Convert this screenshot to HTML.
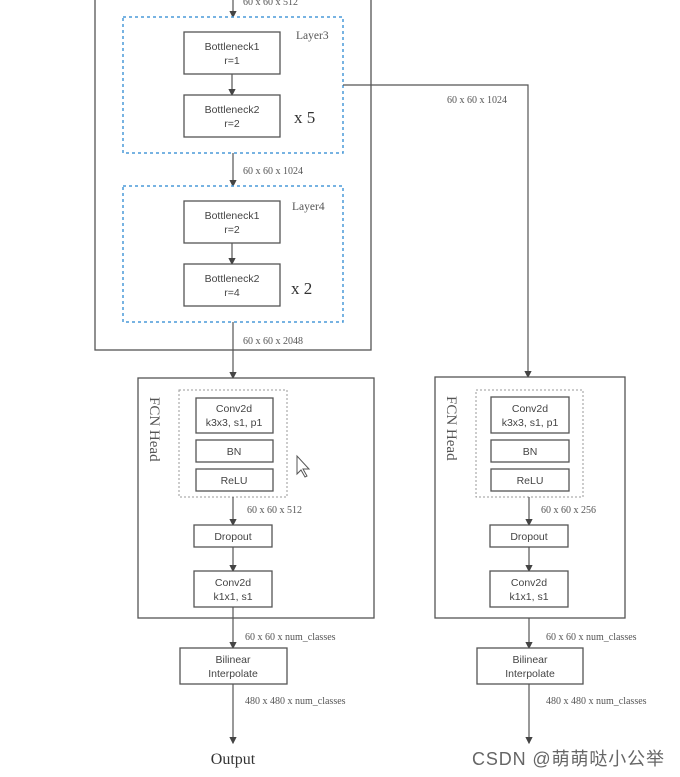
<!DOCTYPE html>
<html><head><meta charset="utf-8"><style>
body{margin:0;background:#fff}
svg{display:block}
.b{fill:#fff;stroke:#555;stroke-width:1.3}
.s{font-family:"Liberation Sans",sans-serif;font-size:10.5px;fill:#444;text-anchor:middle}
.t{font-family:"Liberation Serif",serif;font-size:10px;fill:#555}
.l{stroke:#555;stroke-width:1.2;fill:none}
.d{fill:none;stroke:#4a9ad8;stroke-width:1.5;stroke-dasharray:3,3}
.g{fill:none;stroke:#999;stroke-width:1;stroke-dasharray:2,2}
</style></head><body>
<svg width="680" height="777" viewBox="0 0 680 777" xmlns="http://www.w3.org/2000/svg">
<defs><marker id="a" markerWidth="6" markerHeight="6" refX="5" refY="3" orient="auto"><path d="M0,0 L6,3 L0,6 z" fill="#444"/></marker></defs>
<!-- backbone -->
<rect class="b" x="95" y="-10" width="276" height="360"/>
<line class="l" x1="233" y1="0" x2="233" y2="17" marker-end="url(#a)"/>
<text class="t" x="243" y="5">60 x 60 x 512</text>
<rect class="d" x="123" y="17" width="220" height="136"/>
<text class="t" x="296" y="39" style="font-size:11.5px">Layer3</text>
<rect class="b" x="184" y="32" width="96" height="42"/>
<text class="s" x="232" y="50">Bottleneck1</text><text class="s" x="232" y="64">r=1</text>
<line class="l" x1="232" y1="74" x2="232" y2="95" marker-end="url(#a)"/>
<rect class="b" x="184" y="95" width="96" height="42"/>
<text class="s" x="232" y="113">Bottleneck2</text><text class="s" x="232" y="127">r=2</text>
<text x="294" y="123" font-family="Liberation Serif,serif" font-size="17" fill="#333">x 5</text>
<line class="l" x1="233" y1="153" x2="233" y2="186" marker-end="url(#a)"/>
<text class="t" x="243" y="174">60 x 60 x 1024</text>
<rect class="d" x="123" y="186" width="220" height="136"/>
<text class="t" x="292" y="210" style="font-size:11.5px">Layer4</text>
<rect class="b" x="184" y="201" width="96" height="42"/>
<text class="s" x="232" y="219">Bottleneck1</text><text class="s" x="232" y="233">r=2</text>
<line class="l" x1="232" y1="243" x2="232" y2="264" marker-end="url(#a)"/>
<rect class="b" x="184" y="264" width="96" height="42"/>
<text class="s" x="232" y="282">Bottleneck2</text><text class="s" x="232" y="296">r=4</text>
<text x="291" y="294" font-family="Liberation Serif,serif" font-size="17" fill="#333">x 2</text>
<line class="l" x1="233" y1="322" x2="233" y2="378" marker-end="url(#a)"/>
<text class="t" x="243" y="344">60 x 60 x 2048</text>
<polyline class="l" points="343,85 528,85 528,377" marker-end="url(#a)"/>
<text class="t" x="447" y="103">60 x 60 x 1024</text>

<!-- left head -->
<rect class="b" x="138" y="378" width="236" height="240"/>
<text class="t" style="font-size:15px" transform="translate(150,397) rotate(90)">FCN Head</text>
<rect class="g" x="179" y="390" width="108" height="107"/>
<rect class="b" x="196" y="398" width="77" height="35"/>
<text class="s" x="234" y="412">Conv2d</text><text class="s" x="234" y="426">k3x3, s1, p1</text>
<rect class="b" x="196" y="440" width="77" height="22"/><text class="s" x="234" y="455">BN</text>
<rect class="b" x="196" y="469" width="77" height="22"/><text class="s" x="234" y="484">ReLU</text>
<path d="M297,456 L297,474 L301,470 L305,477 L307,476 L303,469 L309,469 Z" fill="#fff" stroke="#555"/>
<line class="l" x1="233" y1="497" x2="233" y2="525" marker-end="url(#a)"/>
<text class="t" x="247" y="513">60 x 60 x 512</text>
<rect class="b" x="194" y="525" width="78" height="22"/><text class="s" x="233" y="540">Dropout</text>
<line class="l" x1="233" y1="547" x2="233" y2="571" marker-end="url(#a)"/>
<rect class="b" x="194" y="571" width="78" height="36"/>
<text class="s" x="233" y="586">Conv2d</text><text class="s" x="233" y="600">k1x1, s1</text>
<line class="l" x1="233" y1="607" x2="233" y2="648" marker-end="url(#a)"/>
<text class="t" x="245" y="640">60 x 60 x num_classes</text>
<rect class="b" x="180" y="648" width="107" height="36"/>
<text class="s" x="233" y="663">Bilinear</text><text class="s" x="233" y="677">Interpolate</text>
<line class="l" x1="233" y1="684" x2="233" y2="743" marker-end="url(#a)"/>
<text class="t" x="245" y="704">480 x 480 x num_classes</text>
<text x="233" y="764" font-family="Liberation Serif,serif" font-size="16" fill="#333" text-anchor="middle">Output</text>

<!-- right head -->
<rect class="b" x="435" y="377" width="190" height="241"/>
<text class="t" style="font-size:15px" transform="translate(447,396) rotate(90)">FCN Head</text>
<rect class="g" x="476" y="390" width="107" height="107"/>
<rect class="b" x="491" y="397" width="78" height="36"/>
<text class="s" x="530" y="412">Conv2d</text><text class="s" x="530" y="426">k3x3, s1, p1</text>
<rect class="b" x="491" y="440" width="78" height="22"/><text class="s" x="530" y="455">BN</text>
<rect class="b" x="491" y="469" width="78" height="22"/><text class="s" x="530" y="484">ReLU</text>
<line class="l" x1="529" y1="497" x2="529" y2="525" marker-end="url(#a)"/>
<text class="t" x="541" y="513">60 x 60 x 256</text>
<rect class="b" x="490" y="525" width="78" height="22"/><text class="s" x="529" y="540">Dropout</text>
<line class="l" x1="529" y1="547" x2="529" y2="571" marker-end="url(#a)"/>
<rect class="b" x="490" y="571" width="78" height="36"/>
<text class="s" x="529" y="586">Conv2d</text><text class="s" x="529" y="600">k1x1, s1</text>
<line class="l" x1="529" y1="618" x2="529" y2="648" marker-end="url(#a)"/>
<text class="t" x="546" y="640">60 x 60 x num_classes</text>
<rect class="b" x="477" y="648" width="106" height="36"/>
<text class="s" x="530" y="663">Bilinear</text><text class="s" x="530" y="677">Interpolate</text>
<line class="l" x1="529" y1="684" x2="529" y2="743" marker-end="url(#a)"/>
<text class="t" x="546" y="704">480 x 480 x num_classes</text>
<text x="472" y="765" font-family="Liberation Sans,'Noto Sans CJK SC',sans-serif" font-size="18" fill="#666" textLength="192">CSDN @萌萌哒小公举</text>
</svg>
</body></html>
